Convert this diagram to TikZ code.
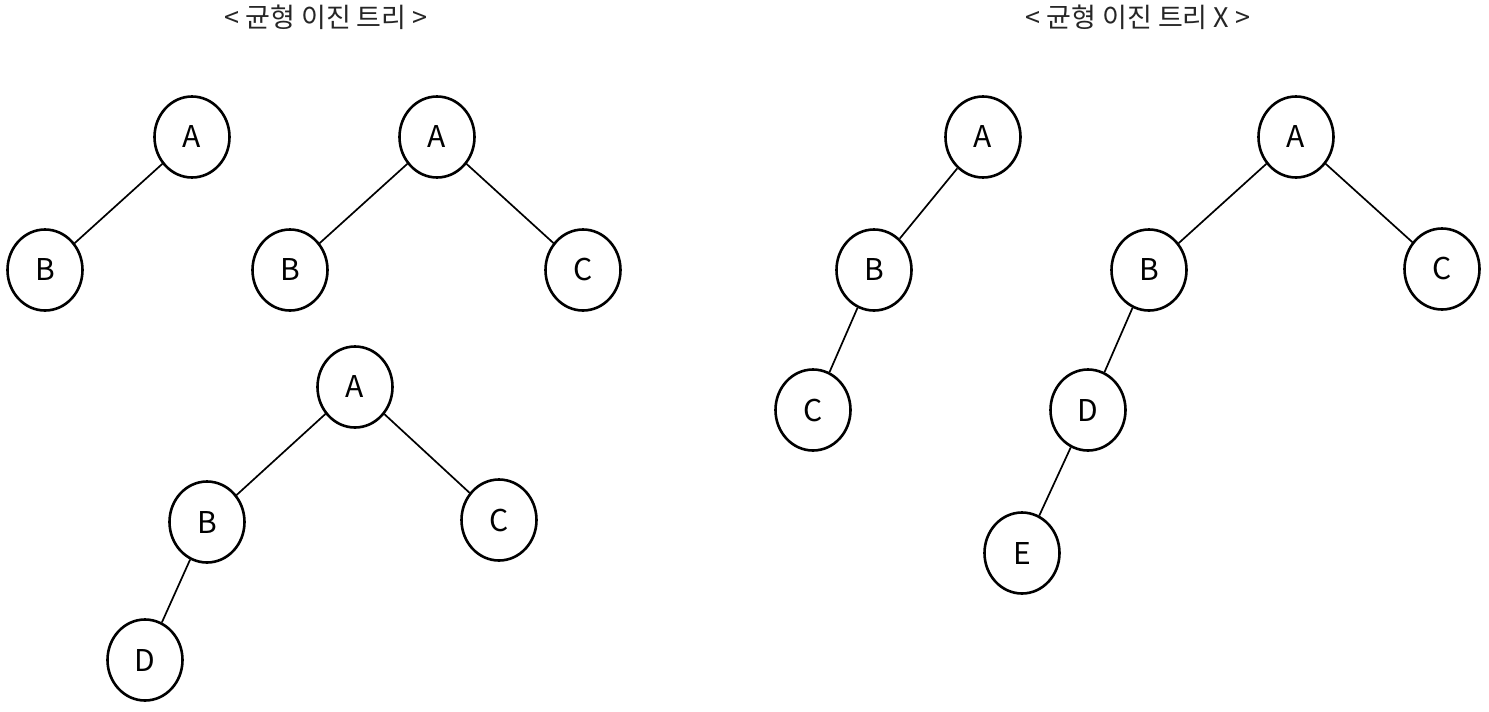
\documentclass[tikz,border=0pt]{standalone}
\usepackage{fontspec}
\setmainfont{Noto Sans CJK KR}
\usetikzlibrary{shapes.geometric}
\tikzset{
  tnode/.style={ellipse, draw=black, line width=2.6pt, minimum width=75pt, minimum height=81pt, inner sep=0pt, font=\fontsize{30}{30}\selectfont},
  tedge/.style={draw=black, line width=1.7pt},
  ttitle/.style={font=\fontsize{27}{27}\selectfont, text=black!85, inner sep=0pt}
}
\begin{document}
\begin{tikzpicture}[x=1pt,y=-1pt]
\useasboundingbox (0,0) rectangle (1489,712);
\node[ttitle] (t1) at (326,17) {< 균형 이진 트리 >};
\node[ttitle] (t2) at (1138,17) {< 균형 이진 트리 X >};
% tree 1
\node[tnode] (a1) at (192,137) {A};
\node[tnode] (b1) at (45,270) {B};
\draw[tedge] (a1) -- (b1);
% tree 2
\node[tnode] (a2) at (437,137) {A};
\node[tnode] (b2) at (290,270) {B};
\node[tnode] (c2) at (583,270) {C};
\draw[tedge] (a2) -- (b2);
\draw[tedge] (a2) -- (c2);
% tree 3
\node[tnode] (a3) at (355,387) {A};
\node[tnode] (b3) at (207,522) {B};
\node[tnode] (c3) at (499,520) {C};
\node[tnode] (d3) at (145,660) {D};
\draw[tedge] (a3) -- (b3);
\draw[tedge] (a3) -- (c3);
\draw[tedge] (b3) -- (d3);
% tree 4
\node[tnode] (a4) at (983,137) {A};
\node[tnode] (b4) at (874,270) {B};
\node[tnode] (c4) at (813,410) {C};
\draw[tedge] (a4) -- (b4);
\draw[tedge] (b4) -- (c4);
% tree 5
\node[tnode] (a5) at (1296,137) {A};
\node[tnode] (b5) at (1149,270) {B};
\node[tnode] (c5) at (1442,269) {C};
\node[tnode] (d5) at (1088,410) {D};
\node[tnode] (e5) at (1022,553) {E};
\draw[tedge] (a5) -- (b5);
\draw[tedge] (a5) -- (c5);
\draw[tedge] (b5) -- (d5);
\draw[tedge] (d5) -- (e5);
\end{tikzpicture}
\end{document}
